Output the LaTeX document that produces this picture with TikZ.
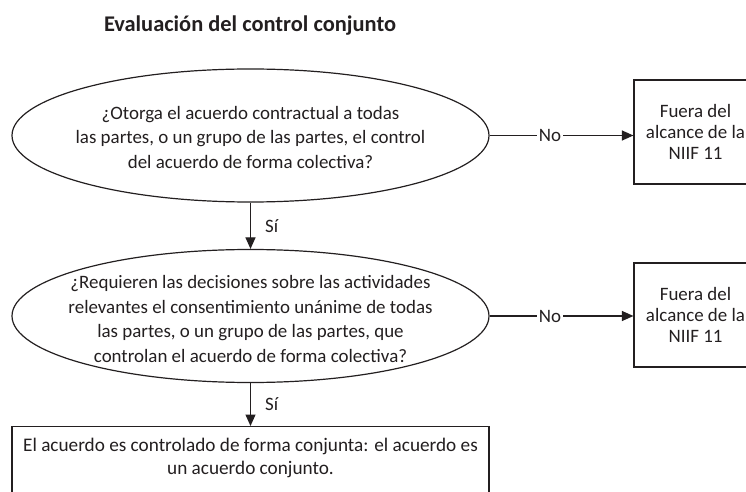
\documentclass[tikz,border=0pt]{standalone}
\usepackage{fontspec}
\setmainfont{Carlito}
\usetikzlibrary{shapes.geometric,arrows.meta,calc}
\definecolor{ink}{HTML}{231F20}
\begin{document}
\begin{tikzpicture}[x=1bp,y=-1bp,
  txt/.style={font=\fontsize{19}{25}\selectfont, text=ink, align=center, inner sep=0},
  btxt/.style={font=\fontsize{19}{21.5}\selectfont, text=ink, align=center, inner sep=0},
  qshape/.style={draw=ink, ellipse, line width=1.2bp, inner sep=0},
  boxshape/.style={draw=ink, rectangle, line width=1.2bp, inner sep=0},
  arr/.style={draw=ink, line width=1.2bp, -{Triangle[length=11.5bp,width=10bp]}},
  lbl/.style={font=\fontsize{19}{23}\selectfont, text=ink, fill=white, inner xsep=1.5bp, inner ysep=0}
  ]
\useasboundingbox (0,0) rectangle (746,492);
\clip (0,0) rectangle (746,492);
\fill[white] (0,0) rectangle (746,492);

\node[txt, font=\bfseries\fontsize{22.5}{26}\selectfont, anchor=base] (title) at (250,32) {Evaluación del control conjunto};

% first question
\node[qshape, minimum width=477bp, minimum height=133bp] (e1) at (250.5,135.5) {};
\node[txt] (t1) at ($(e1.center)+(0,2)$) {¿Otorga el acuerdo contractual a todas\\las partes, o un grupo de las partes, el control\\del acuerdo de forma colectiva?};

\node[boxshape, minimum width=123bp, minimum height=104bp] (b1) at (695.5,132) {};
\node[btxt] (bt1) at (b1.center) {Fuera del\\alcance de la\\NIIF 11};

% second question
\node[qshape, minimum width=477bp, minimum height=133bp] (e2) at (250.5,316) {};
\node[txt] (t2) at ($(e2.center)+(0,3)$) {¿Requieren las decisiones sobre las actividades\\relevantes el consentimiento unánime de todas\\las partes, o un grupo de las partes, que\\controlan el acuerdo de forma colectiva?};

\node[boxshape, minimum width=123bp, minimum height=104bp] (b2) at (695.5,315) {};
\node[btxt] (bt2) at (b2.center) {Fuera del\\alcance de la\\NIIF 11};

% result
\node[boxshape, anchor=north, minimum width=477bp, minimum height=90bp] (r) at (250.5,426) {};
\node[txt, font=\fontsize{19.3}{23}\selectfont] (rt) at (250.5,458) {El acuerdo es controlado de forma conjunta: el acuerdo es\\un acuerdo conjunto.};

% connectors
\draw[arr] (e1.east) -- (e1.east -| b1.west) node[lbl, pos=0.42] (no1) {No};
\draw[arr] (e2.east) -- (e2.east -| b2.west) node[lbl, pos=0.42] (no2) {No};
\draw[arr] (e1.south) -- (e2.north) node[midway, right=14bp, txt] (si1) {Sí};
\draw[arr] (e2.south) -- (r.north) node[midway, right=14bp, txt] (si2) {Sí};
\end{tikzpicture}
\end{document}
